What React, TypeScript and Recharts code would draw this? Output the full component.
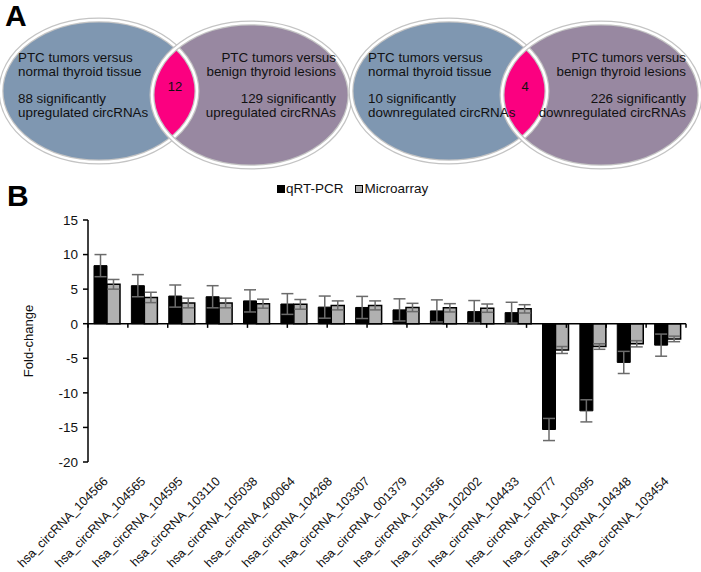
import * as React from "react";
import { Bar, BarChart, ErrorBar, Label, ReferenceLine, XAxis, YAxis } from "recharts";

const categories = [
  "hsa_circRNA_104566", "hsa_circRNA_104565", "hsa_circRNA_104595", "hsa_circRNA_103110",
  "hsa_circRNA_105038", "hsa_circRNA_400064", "hsa_circRNA_104268", "hsa_circRNA_103307",
  "hsa_circRNA_001379", "hsa_circRNA_101356", "hsa_circRNA_102002", "hsa_circRNA_104433",
  "hsa_circRNA_100777", "hsa_circRNA_100395", "hsa_circRNA_104348", "hsa_circRNA_103454",
];
const qrtPcr = [8.4, 5.5, 4.0, 3.9, 3.3, 2.85, 2.4, 2.35, 2.0, 1.85, 1.75, 1.6, -15.3, -12.6, -5.6, -3.1];
const qrtPcrErr = [1.6, 1.6, 1.6, 1.6, 1.6, 1.5, 1.6, 1.6, 1.6, 1.6, 1.6, 1.5, 1.6, 1.6, 1.6, 1.6];
const microarray = [5.7, 3.8, 3.0, 3.0, 2.9, 2.8, 2.65, 2.65, 2.35, 2.3, 2.25, 2.15, -3.8, -3.3, -2.9, -2.2];
const microarrayErr = [0.7, 0.75, 0.7, 0.7, 0.65, 0.7, 0.65, 0.65, 0.6, 0.6, 0.6, 0.6, 0.5, 0.4, 0.45, 0.4];
const yTicks = [-20, -15, -10, -5, 0, 5, 10, 15];
const edges = [0, 1, 2, 3, 4, 5, 6, 7, 8, 9, 10, 11, 12, 13, 14, 15, 16];

const vennUp = { count: "12", left: "88 significantly", right: "129 significantly", kind: "upregulated circRNAs" };
const vennDown = { count: "4", left: "10 significantly", right: "226 significantly", kind: "downregulated circRNAs" };

const font = '"Liberation Sans", Arial, sans-serif';
const data = categories.map((name, i) => ({
  name,
  qrt: qrtPcr[i],
  qrtErr: qrtPcrErr[i],
  micro: microarray[i],
  microErr: microarrayErr[i],
}));

function XTick({ x, y, payload }: any) {
  return (
    <g transform={`translate(${x + 2},${y + 12})`}>
      <text transform="rotate(-45)" textAnchor="end" fontSize={12.5} fill="#111" fontFamily={font}>
        {payload.value}
      </text>
    </g>
  );
}

function Venn({ ox, id, v }: { ox: number; id: string; v: typeof vennUp }) {
  const L = { cx: ox + 99, cy: 91, rx: 98, ry: 71 };
  const R = { cx: ox + 251, cy: 95, rx: 99, ry: 72 };
  const border = (e: typeof L) => (
    <>
      <ellipse {...e} fill="none" stroke="#c4c4c4" strokeWidth={5} />
      <ellipse {...e} fill="none" stroke="#fff" strokeWidth={2.5} />
    </>
  );
  return (
    <g fontFamily={font} fontSize={13.4} fill="#111">
      <defs>
        <clipPath id={id}>
          <ellipse {...L} />
        </clipPath>
      </defs>
      <ellipse {...L} fill="#7f97b1" />
      <ellipse {...R} fill="#9888a1" />
      <ellipse {...R} fill="#fb0080" clipPath={`url(#${id})`} />
      {border(L)}
      {border(R)}
      <text x={ox + 18} y={62}>PTC tumors versus</text>
      <text x={ox + 18} y={76}>normal thyroid tissue</text>
      <text x={ox + 18} y={103}>{v.left}</text>
      <text x={ox + 18} y={117}>{v.kind}</text>
      <text x={ox + 336} y={62} textAnchor="end">PTC tumors versus</text>
      <text x={ox + 336} y={76} textAnchor="end">benign thyroid lesions</text>
      <text x={ox + 336} y={103} textAnchor="end">{v.right}</text>
      <text x={ox + 336} y={117} textAnchor="end">{v.kind}</text>
      <text x={ox + 175} y={91} textAnchor="middle" fontSize={13}>{v.count}</text>
    </g>
  );
}

export default function App() {
  return (
    <div style={{ position: "absolute", left: 0, top: 0, width: 701, height: 572, background: "#fff", fontFamily: font }}>
      <svg width={701} height={215} style={{ position: "absolute", left: 0, top: 0 }}>
        <Venn ox={0} id="vennUp" v={vennUp} />
        <Venn ox={350} id="vennDown" v={vennDown} />
        <text x={5} y={26} fontSize={30} fontWeight="bold" fontFamily={font}>A</text>
        <text x={7} y={206} fontSize={30} fontWeight="bold" fontFamily={font}>B</text>
      </svg>

      <div style={{ position: "absolute", left: 277, top: 181, fontSize: 13.5, color: "#111", display: "flex", alignItems: "center" }}>
        <span style={{ width: 8, height: 8, background: "#000", display: "inline-block", marginRight: 1 }} />
        <span style={{ marginRight: 11 }}>qRT-PCR</span>
        <span style={{ width: 6, height: 6, background: "#b0b0b0", border: "1.5px solid #000", display: "inline-block", marginRight: 2 }} />
        <span>Microarray</span>
      </div>

      <div style={{ position: "absolute", left: 0, top: 0 }}>
        <BarChart
          width={701}
          height={572}
          data={data}
          margin={{ top: 220, right: 15, bottom: 5, left: 28 }}
          barGap={0}
          barSize={13}
          style={{ fontFamily: font }}
        >
          <XAxis dataKey="name" interval={0} height={105} axisLine={false} tickLine={false} tick={<XTick />} />
          <XAxis xAxisId="edge" type="number" domain={[0, 16]} hide />
          <YAxis
            domain={[-20, 15]}
            ticks={yTicks}
            width={60}
            tickSize={5}
            tickMargin={5}
            axisLine={{ stroke: "#000", strokeWidth: 1.5 }}
            tickLine={{ stroke: "#000", strokeWidth: 1.5 }}
            tick={{ fontSize: 13.5, fill: "#111", fontFamily: font }}
          >
            <Label
              content={() => (
                <text x={33} y={341} transform="rotate(-90 33 341)" textAnchor="middle" fontSize={13} fill="#111" fontFamily={font}>
                  Fold-change
                </text>
              )}
            />
          </YAxis>
          <ReferenceLine y={0} stroke="#000" strokeWidth={1.5} />
          {edges.map((e) => (
            <ReferenceLine
              key={e}
              xAxisId="edge"
              segment={[{ x: e, y: 0 }, { x: e, y: -0.6 }]}
              stroke="#000"
              strokeWidth={1.5}
            />
          ))}
          <Bar dataKey="qrt" fill="#000" stroke="#000" strokeWidth={1} isAnimationActive={false}>
            <ErrorBar dataKey="qrtErr" width={6} stroke="#6b6b6b" strokeWidth={1.5} direction="y" />
          </Bar>
          <Bar dataKey="micro" fill="#b0b0b0" stroke="#000" strokeWidth={1.5} isAnimationActive={false}>
            <ErrorBar dataKey="microErr" width={6} stroke="#6b6b6b" strokeWidth={1.5} direction="y" />
          </Bar>
        </BarChart>
      </div>
    </div>
  );
}
